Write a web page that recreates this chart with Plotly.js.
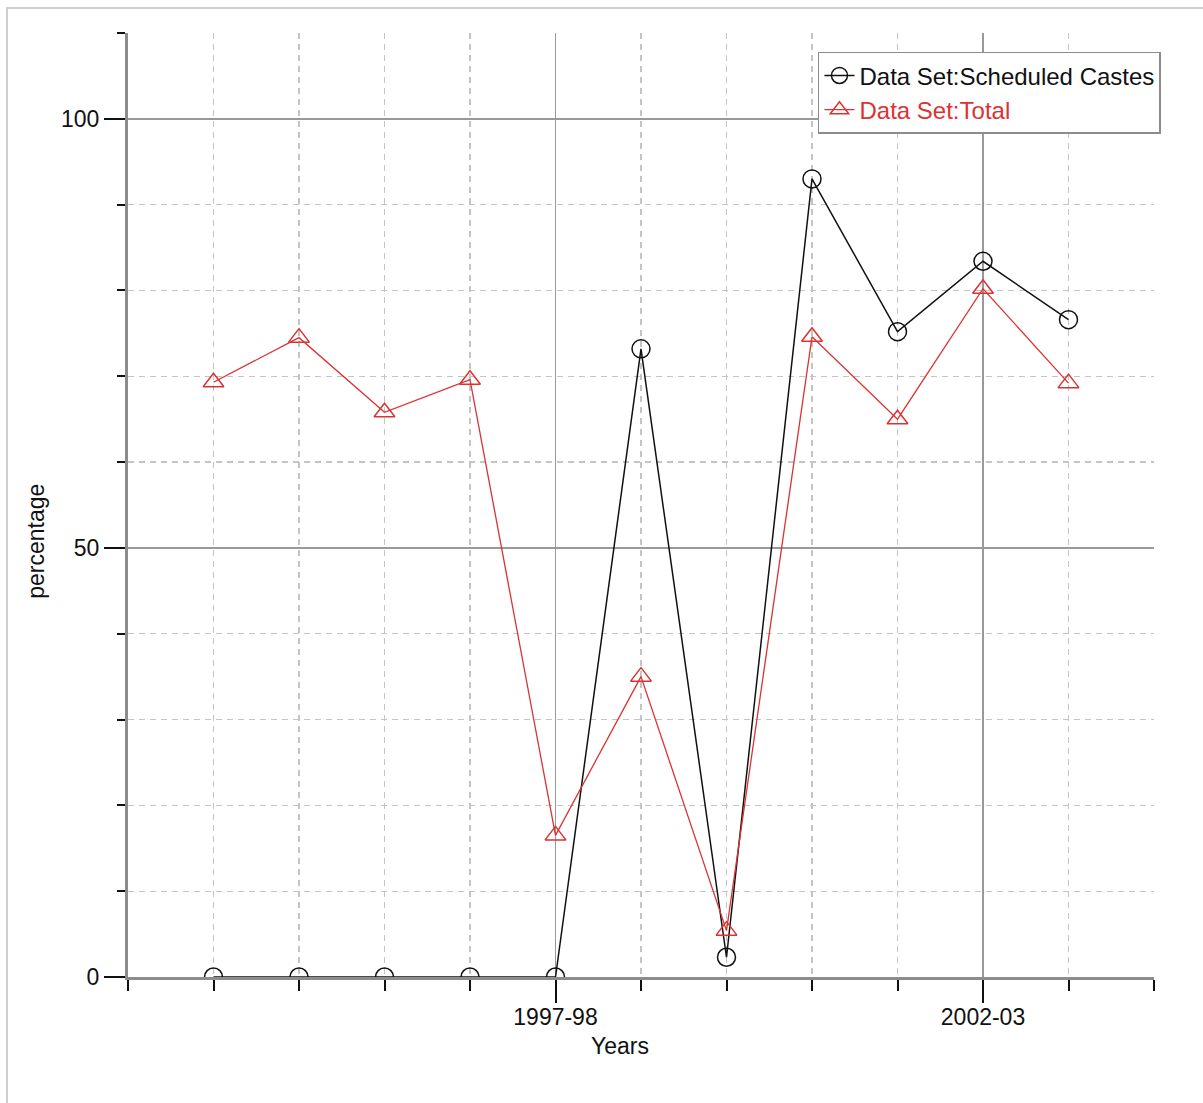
<!DOCTYPE html>
<html>
<head>
<meta charset="utf-8">
<script src="https://cdn.plot.ly/plotly-3.0.1.min.js"></script>
<style>
  html, body { margin: 0; padding: 0; background: #fff; }
  #chart { position: absolute; left: 0; top: 0; width: 1203px; height: 1103px; }
  #frame { position: absolute; left: 6px; top: 7px; width: 1197px; height: 1096px;
           border-left: 2px solid #cfcfcf; border-top: 2px solid #cfcfcf; pointer-events: none; }
</style>
</head>
<body>
<div id="chart"></div>
<div id="frame"></div>
<script>
// ---- data ----
const categories = ['1993-94','1994-95','1995-96','1996-97','1997-98','1998-99','1999-00','2000-01','2001-02','2002-03','2003-04'];
const scheduledCastes = [0, 0, 0, 0, 0, 73.2, 2.3, 93.0, 75.2, 83.4, 76.6];
const totalValues = [69.3, 74.5, 65.8, 69.6, 16.5, 35.0, 5.4, 74.6, 65.0, 80.2, 69.2];
const seriesNames = ['Data Set:Scheduled Castes', 'Data Set:Total'];
const labelledTicks = ['1997-98', '2002-03'];
const yMajorTicks = [0, 50, 100];

const xIdx = categories.map((c, i) => i);
const red = '#dc3232';
const font = 'Liberation Sans, Arial, sans-serif';

const traces = [
  {
    x: xIdx, y: scheduledCastes, name: seriesNames[0], type: 'scatter', mode: 'lines+markers',
    line: { color: '#111', width: 1.5 },
    marker: { symbol: 'circle-open', size: 18, color: '#111', line: { width: 1.5, color: '#111' } },
    cliponaxis: true
  },
  {
    x: xIdx, y: totalValues, name: '<span style="color:' + red + '">' + seriesNames[1] + '</span>',
    type: 'scatter', mode: 'lines+markers',
    line: { color: red, width: 1.3 },
    marker: { symbol: 'triangle-up-open', size: 18, color: red, line: { width: 1.5, color: red } },
    cliponaxis: true
  }
];

const majorX = [-1].concat(labelledTicks.map(t => categories.indexOf(t)));
const majorXText = [''].concat(labelledTicks);
const minorX = [];
for (let i = -1; i <= categories.length; i++) minorX.push(i);

const layout = {
  width: 1203, height: 1103,
  margin: { l: 128, r: 49, t: 33, b: 126 },
  paper_bgcolor: '#fff', plot_bgcolor: '#fff',
  font: { family: font, size: 23, color: '#111' },
  showlegend: true,
  legend: {
    x: 1.0068, xanchor: 'right', y: 0.98, yanchor: 'top',
    bgcolor: '#fff', bordercolor: '#8c8c8c', borderwidth: 1.5,
    font: { family: font, size: 24, color: '#111' },
    tracegroupgap: 0
  },
  xaxis: {
    type: 'linear', range: [-1, categories.length],
    tickmode: 'array', tickvals: majorX, ticktext: majorXText,
    ticks: 'outside', ticklen: 23, tickwidth: 2, tickcolor: '#111',
    ticklabelstandoff: -6,
    showline: true, linecolor: '#8c8c8c', linewidth: 3,
    showgrid: true, gridcolor: '#999', gridwidth: 1.5,
    zeroline: false,
    tickfont: { family: font, size: 23, color: '#111' },
    minor: {
      tickmode: 'array', tickvals: minorX,
      ticks: 'outside', ticklen: 11, tickwidth: 2, tickcolor: '#111',
      showgrid: true, gridcolor: '#c4c4c4', gridwidth: 1.3, griddash: '6px,5px'
    },
    fixedrange: true
  },
  yaxis: {
    range: [0, 110],
    tickmode: 'array', tickvals: yMajorTicks,
    ticks: 'outside', ticklen: 21, tickwidth: 2, tickcolor: '#111',
    showline: true, linecolor: '#8c8c8c', linewidth: 3,
    showgrid: true, gridcolor: '#999', gridwidth: 1.5,
    zeroline: false,
    tickfont: { family: font, size: 23, color: '#111' },
    minor: {
      dtick: 10, tick0: 0,
      ticks: 'outside', ticklen: 8, tickwidth: 2, tickcolor: '#111',
      showgrid: true, gridcolor: '#c4c4c4', gridwidth: 1.3, griddash: '6px,5px'
    },
    fixedrange: true
  },
  annotations: [
    { text: 'Years', xref: 'paper', yref: 'paper', x: 0.4795, y: -0.0731,
      xanchor: 'center', yanchor: 'middle', showarrow: false,
      font: { family: font, size: 23, color: '#111' } },
    { text: 'percentage', xref: 'paper', yref: 'paper', x: -0.0897, y: 0.462,
      xanchor: 'center', yanchor: 'middle', showarrow: false, textangle: -90,
      font: { family: font, size: 23, color: '#111' } }
  ]
};

Plotly.newPlot('chart', traces, layout, { displayModeBar: false, staticPlot: true });
</script>
</body>
</html>
